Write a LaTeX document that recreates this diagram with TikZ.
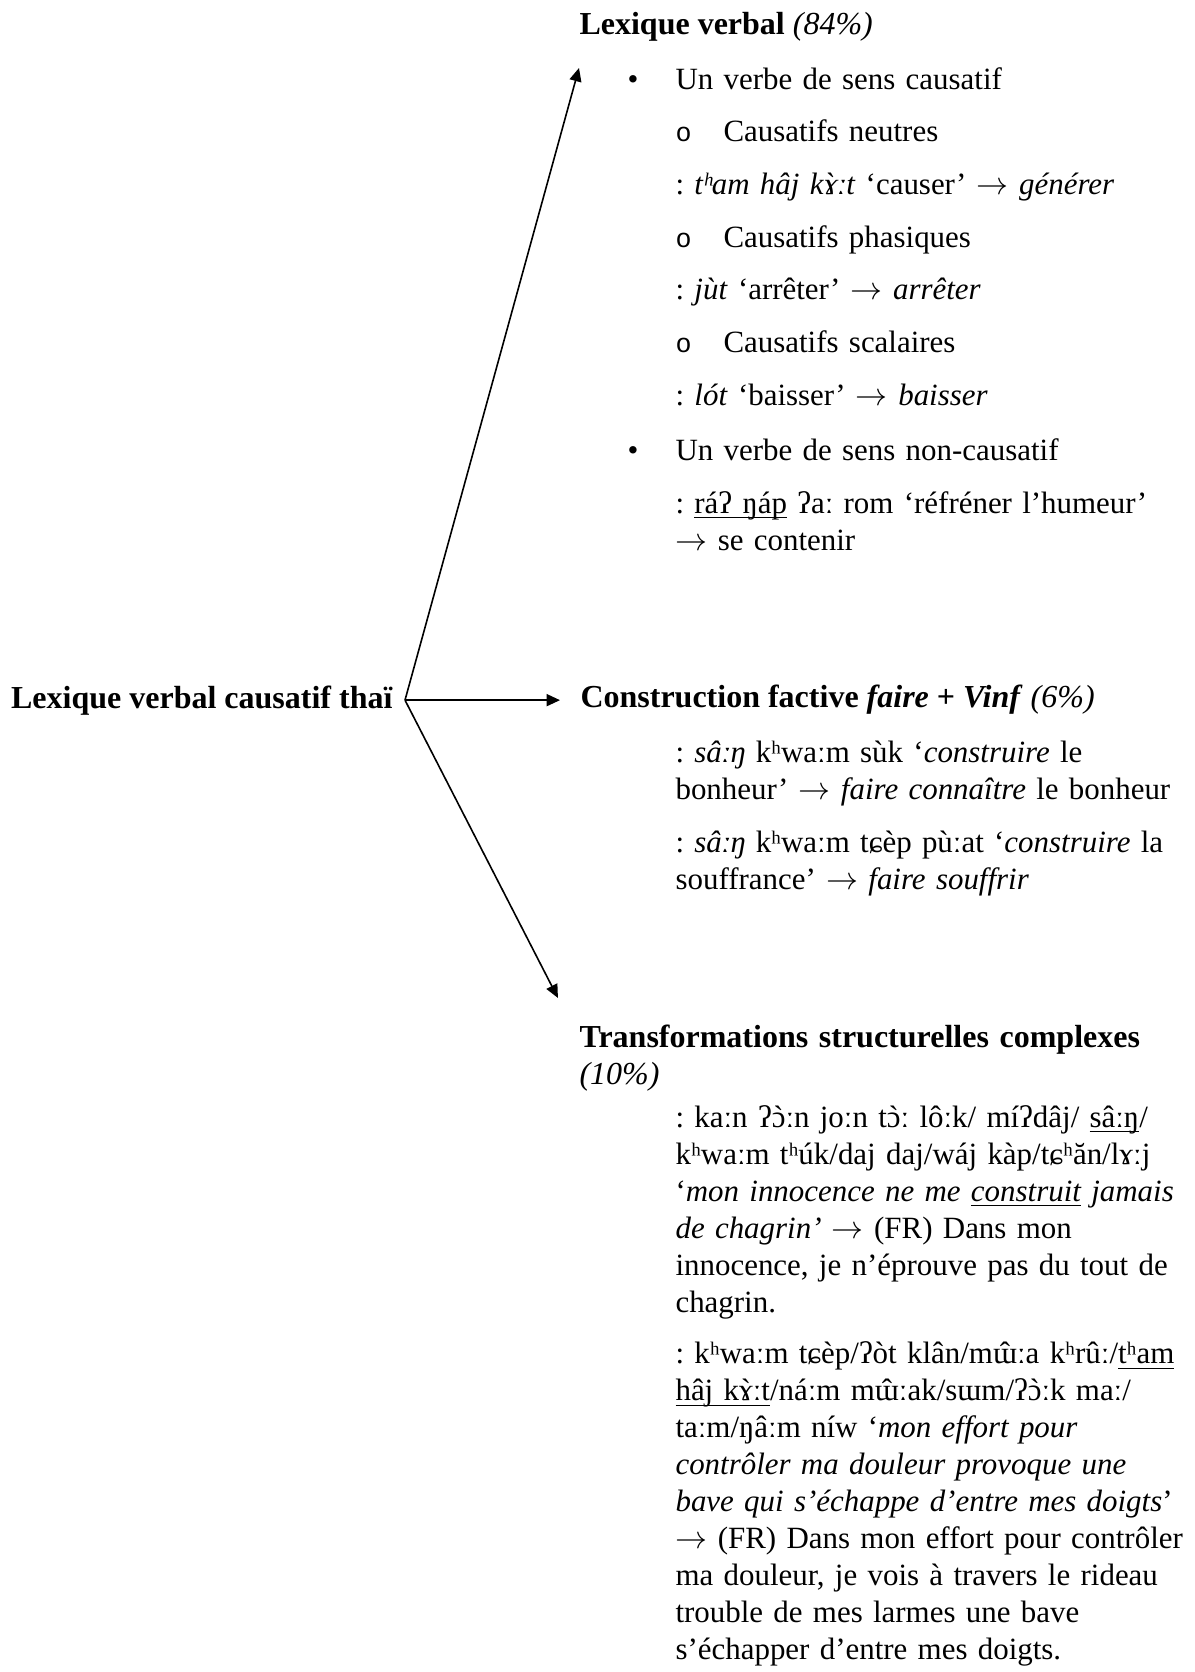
\documentclass[tikz,border=0pt]{standalone}
\usepackage{fontspec}
\setmainfont{Liberation Serif}
\newfontfamily\monopuce{Liberation Mono}
\usetikzlibrary{arrows.meta}
\frenchspacing

\newcommand{\puce}{\makebox[18pt][l]{\textbullet}}
\newcommand{\souspuce}{\hspace*{18pt}\makebox[18pt][l]{\monopuce\fontsize{10}{10}\selectfont o}}
\newcommand{\decale}{\hspace*{18pt}}
\newcommand{\souligne}[1]{\leavevmode\setbox0=\hbox{#1}\rlap{\rule[-1.9pt]{\wd0}{0.5pt}}\box0\relax}
\newcommand{\justifie}[1]{\makebox[190pt][s]{#1}}
\newcommand{\fl}{\ensuremath{\rightarrow}}
\newcommand{\accgrave}[1]{\accent"02CB #1}
\newcommand{\acccirc}[1]{\accent"02C6 #1}

\tikzset{%
    titre/.style={%
        font=\fontsize{12}{13.875}\selectfont\bfseries
    },
    bloc/.style={%
        text width=205pt, align=left
    },
    liste_bloc/.style={%
        bloc, font=\fontsize{11.6}{19.76}\selectfont
    },
    fleche/.style={%
        -{Triangle[length=5pt,width=4.5pt]}, line width=0.6pt
    },
}

\begin{document}
\begin{tikzpicture}[x=0.375pt, y=-0.375pt,
    every node/.style={inner sep=0pt, anchor=base west, font=\fontsize{11.6}{13.875}\selectfont}]

    \useasboundingbox (0,0) rectangle (1194,1672);

    \node[titre, anchor=base east, inner xsep=4.5pt] (racine) at (405,708) {Lexique verbal causatif thaï};

    % lexique verbal
    \node[titre] (lexique) at (579,34) {Lexique verbal \textnormal{\textit{(84\%)}}};
    \node[liste_bloc] (lexique_liste) at (627,89) {%
      \puce Un verbe de sens causatif\\
      \souspuce Causatifs neutres\\
      \decale : \textit{tʰam hâj k\accgrave{ɤ}ːt} ‘causer’ \fl{} \textit{générer}\\
      \souspuce Causatifs phasiques\\
      \decale : \textit{jùt} ‘arrêter’ \fl{} \textit{arrêter}\\
      \souspuce Causatifs scalaires\\
      \decale : \textit{lót} ‘baisser’ \fl{} \textit{baisser}};
    \node[liste_bloc] (non_causatif) at (627,460) {\puce Un verbe de sens non-causatif};
    \node[bloc] (non_causatif_ex) at (675,513) {%
      \justifie{: \souligne{ráʔ ŋáp} ʔaː rom ‘réfréner l’humeur’}\\
      \fl{} se contenir};

    % construction factitive
    \node[titre] (factitive) at (580,707) {Construction factive \textit{faire} + \textit{Vinf} \textnormal{\textit{(6\%)}}};
    \node[bloc] (factitive_ex) at (675,762) {%
      : \textit{sâːŋ} kʰwaːm sùk ‘\textit{construire} le\\
      bonheur’ \fl{} \textit{faire connaître} le bonheur\\[6pt]
      \justifie{: \textit{sâːŋ} kʰwaːm tɕèp pùːat ‘\textit{construire} la}\\
      souffrance’ \fl{} \textit{faire souffrir}};

    % transformations
    \node[titre, text width=260pt, align=left] (transformations) at (579,1047) {Transformations structurelles complexes\\
      \textnormal{\textit{(10\%)}}};
    \node[bloc] (transformations_ex) at (675,1127) {%
      : kaːn ʔ\accgrave{ɔ}ːn joːn t\accgrave{ɔ}ː lôːk/ míʔdâj/ \souligne{sâːŋ}/\\
      kʰwaːm tʰúk/daj daj/wáj kàp/tɕʰăn/lɤːj\\
      ‘\textit{mon innocence ne me \souligne{construit} jamais}\\
      \textit{de chagrin’} \fl{} (FR) Dans mon\\
      innocence, je n’éprouve pas du tout de\\
      chagrin.\\[5.6pt]
      : kʰwaːm tɕèp/ʔòt klân/m\acccirc{ɯ}ːa kʰrûː/\souligne{tʰam}\\
      \souligne{hâj k\accgrave{ɤ}ːt}/náːm m\acccirc{ɯ}ːak/sɯm/ʔ\accgrave{ɔ}ːk maː/\\
      taːm/ŋâːm níw ‘\textit{mon effort pour}\\
      \textit{contrôler ma douleur provoque une}\\
      \textit{bave qui s’échappe d’entre mes doigts}’\\
      \fl{} (FR) Dans mon effort pour contrôler\\
      ma douleur, je vois à travers le rideau\\
      trouble de mes larmes une bave\\
      s’échapper d’entre mes doigts.};

    \draw[fleche] (racine.east) -- ([yshift=-10pt]lexique.south west);
    \draw[fleche, shorten >=7.5pt] (racine.east) -- (racine.east -| factitive.west);
    \draw[fleche] (racine.east) -- ([shift={(-7.9pt,9.75pt)}]transformations.north west);

\end{tikzpicture}
\end{document}
